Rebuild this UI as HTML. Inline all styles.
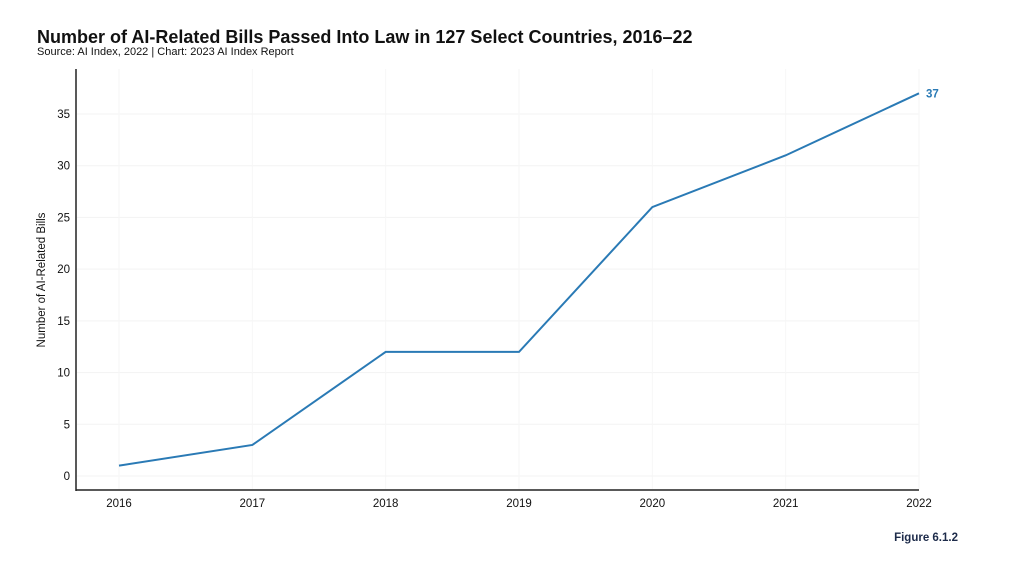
<!DOCTYPE html>
<html><head><meta charset="utf-8"><style>
body{margin:0;background:#fff;width:1024px;height:558px;overflow:hidden;font-family:"Liberation Sans",sans-serif;}
</style></head><body>
<svg width="1024" height="558" font-family="Liberation Sans, sans-serif">
<text x="37" y="43" font-size="18" font-weight="bold" fill="#111">Number of AI-Related Bills Passed Into Law in 127 Select Countries, 2016–22</text>
<text x="37" y="55" font-size="11" fill="#111">Source: AI Index, 2022 | Chart: 2023 AI Index Report</text>
<g id="grid"></g><g id="axes"></g><g id="series"></g>
<text x="45" y="280" font-size="11.5" fill="#111" text-anchor="middle" transform="rotate(-90 45 280)">Number of AI-Related Bills</text>
<text x="958" y="541" font-size="11.5" font-weight="bold" fill="#1d2b4a" text-anchor="end">Figure 6.1.2</text>
</svg>
<script>
const years=[2016,2017,2018,2019,2020,2021,2022];
const bills=[1,3,12,12,26,31,37];
const yTicks=[0,5,10,15,20,25,30,35];
const NS="http://www.w3.org/2000/svg";
const x=i=>119+i*(800/(years.length-1));
const y=v=>476-v*10.343;
function mk(t,a,p){const e=document.createElementNS(NS,t);for(const k in a)e.setAttribute(k,a[k]);p.appendChild(e);return e;}
const grid=document.getElementById('grid'),axes=document.getElementById('axes'),ser=document.getElementById('series');
yTicks.forEach(v=>{
 const l=mk('line',{x1:77,x2:919,y1:y(v),y2:y(v),stroke:'#f3f3f3','stroke-width':1},grid);
 
 
 const t=mk('text',{x:70,y:y(v)+4,'font-size':11.5,'text-anchor':'end',fill:'#111'},axes);
 t.textContent=v;
 
 
});
years.forEach((yr,i)=>{
 const l=mk('line',{x1:x(i),x2:x(i),y1:69,y2:489,stroke:'#f6f6f6','stroke-width':1},grid);
 
 
 const t=mk('text',{x:x(i),y:507,'font-size':11.5,'text-anchor':'middle',fill:'#111'},axes);
 t.textContent=yr;
 
 
});
const ya=mk('line',{x1:76,x2:76,y1:69,y2:491,stroke:'#222','stroke-width':1.5},axes);


const xa=mk('line',{x1:76,x2:919,y1:490,y2:490,stroke:'#222','stroke-width':1.5},axes);


const pl=mk('polyline',{points:bills.map((v,i)=>x(i)+','+y(v)).join(' '),fill:'none',stroke:'#2a7ab5','stroke-width':2},ser);


const last=bills.length-1;
const lb=mk('text',{x:x(last)+7,y:y(bills[last])+4,'font-size':11.5,'font-weight':'bold',fill:'#2a7ab5'},ser);
lb.textContent=bills[last];


</script>
</body></html>
